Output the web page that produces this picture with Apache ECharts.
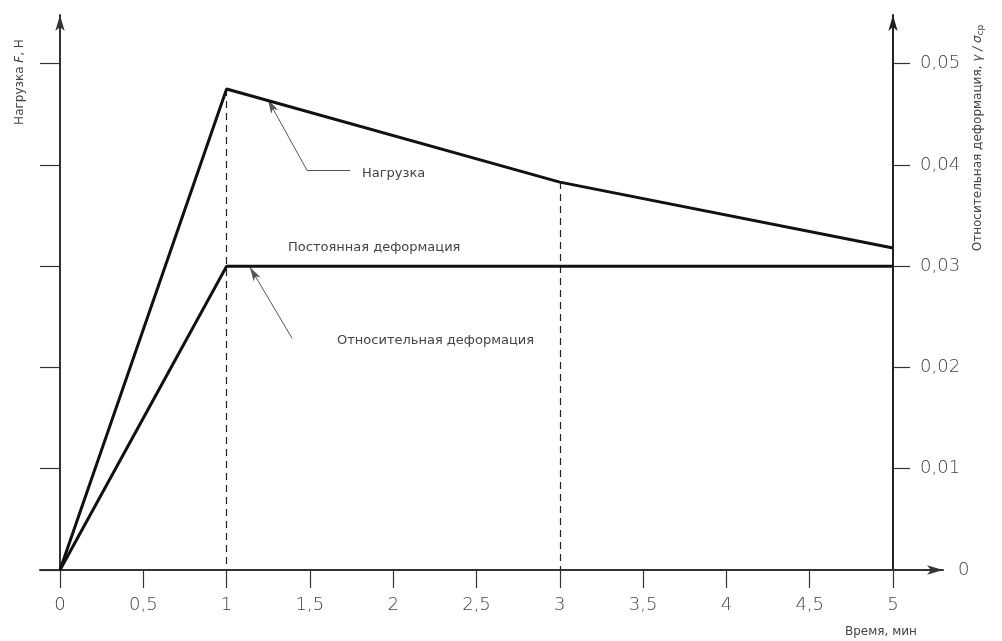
<!DOCTYPE html>
<html>
<head>
<meta charset="utf-8">
<script src="https://cdn.jsdelivr.net/npm/echarts@6.0.0/dist/echarts.min.js"></script>
<style>
  html, body { margin: 0; padding: 0; background: #fff; }
  #main { width: 1002px; height: 641px; }
</style>
</head>
<body>
<div id="main"></div>
<script>
  // данные
  var timeLoad = [0, 1, 3, 5];
  var loadValues = [0, 0.0475, 0.0383, 0.0318];
  var timeDeform = [0, 1, 5];
  var deformValues = [0, 0.03, 0.03];
  var xTicks = [0, 0.5, 1, 1.5, 2, 2.5, 3, 3.5, 4, 4.5, 5];
  var yTicks = [0, 0.01, 0.02, 0.03, 0.04, 0.05];
  var dashedAt = [1, 3];

  var font = "'DejaVu Sans', sans-serif";
  var textColor = '#444';

  function pairs(xs, ys) {
    return xs.map(function (x, i) { return [x, ys[i]]; });
  }
  function comma(v) {
    return String(v).replace('.', ',');
  }

  // пунктирные вертикали от кривой нагрузки до оси времени
  var dashLines = dashedAt.map(function (t) {
    var v = loadValues[timeLoad.indexOf(t)];
    return [
      { coord: [t, v], symbol: 'none', lineStyle: { type: [7, 5], width: 1.2, color: '#222' } },
      { coord: [t, 0], symbol: 'none' }
    ];
  });

  var leaderStyle = { type: 'solid', width: 1, color: '#555' };

  var myChart = echarts.init(document.getElementById('main'));
  myChart.setOption({
    animation: false,
    backgroundColor: '#fff',
    grid: {
      left: 40, right: 59, top: 15, bottom: 71,
      outerBoundsMode: 'none'
    },
    xAxis: {
      type: 'value',
      min: -0.12, max: 5.3,
      splitLine: { show: false },
      axisLine: {
        onZero: false,
        symbol: ['none', 'arrow'], symbolSize: [7, 16], symbolOffset: [0, 0],
        lineStyle: { color: '#333', width: 2 }
      },
      axisTick: {
        show: true, inside: false, length: 18, customValues: xTicks,
        lineStyle: { color: '#333', width: 1.2 }
      },
      axisLabel: {
        customValues: xTicks, margin: 26,
        color: textColor, fontSize: 18, fontFamily: font, fontWeight: 300,
        formatter: comma
      }
    },
    yAxis: [
      {
        type: 'value',
        min: 0, max: 0.0548,
        splitLine: { show: false },
        axisLine: {
          onZero: true,
          symbol: ['none', 'arrow'], symbolSize: [7, 16],
          lineStyle: { color: '#333', width: 2 }
        },
        axisTick: {
          show: true, length: 20, customValues: yTicks,
          lineStyle: { color: '#333', width: 1.2 }
        },
        axisLabel: { show: false }
      },
      {
        type: 'value',
        position: 'right',
        offset: -50,
        min: 0, max: 0.0548,
        splitLine: { show: false },
        axisLine: {
          show: true, onZero: false,
          symbol: ['none', 'arrow'], symbolSize: [7, 16],
          lineStyle: { color: '#222', width: 2 }
        },
        axisTick: {
          show: true, length: 17, customValues: yTicks.slice(1),
          lineStyle: { color: '#333', width: 1.2 }
        },
        axisLabel: {
          customValues: yTicks, margin: 27,
          color: textColor, fontSize: 18, fontFamily: font, fontWeight: 300,
          formatter: function (v) {
            return v === 0 ? '{z|0}' : comma(v);
          },
          rich: {
            z: { padding: [0, 0, 0, 38], color: textColor, fontSize: 18, fontFamily: font, fontWeight: 300 }
          }
        }
      }
    ],
    series: [
      {
        name: 'Нагрузка',
        type: 'line',
        yAxisIndex: 0,
        data: pairs(timeLoad, loadValues),
        showSymbol: false,
        lineStyle: { color: '#111', width: 3 },
        z: 5,
        markLine: {
          silent: true,
          animation: false,
          label: { show: false },
          symbol: ['arrow', 'none'],
          symbolSize: [6, 14],
          lineStyle: leaderStyle,
          data: dashLines.concat([
            [{ coord: [1.248, 0.04645] }, { coord: [1.483, 0.03945] }],
            [{ coord: [1.483, 0.03945], symbol: 'none' }, { coord: [1.741, 0.03945], symbol: 'none' }]
          ])
        },
        markPoint: {
          silent: true,
          symbol: 'circle', symbolSize: 0,
          label: {
            show: true, position: 'right', distance: 0,
            color: textColor, fontSize: 13, fontFamily: font,
            formatter: '{b}'
          },
          data: [
            { name: 'Нагрузка', coord: [1.813, 0.03915] }
          ]
        }
      },
      {
        name: 'Относительная деформация',
        type: 'line',
        yAxisIndex: 1,
        data: pairs(timeDeform, deformValues),
        showSymbol: false,
        lineStyle: { color: '#111', width: 3 },
        z: 5,
        markLine: {
          silent: true,
          animation: false,
          label: { show: false },
          symbol: ['arrow', 'none'],
          symbolSize: [6, 14],
          lineStyle: leaderStyle,
          data: [
            [{ coord: [1.14, 0.0299] }, { coord: [1.393, 0.02288] }]
          ]
        },
        markPoint: {
          silent: true,
          symbol: 'circle', symbolSize: 0,
          label: {
            show: true, position: 'right', distance: 0,
            color: textColor, fontSize: 13, fontFamily: font,
            formatter: '{b}'
          },
          data: [
            { name: 'Постоянная деформация', coord: [1.369, 0.03185] },
            { name: 'Относительная деформация', coord: [1.663, 0.02268] }
          ]
        }
      }
    ],
    graphic: [
      {
        type: 'text', x: 20, y: 82, rotation: Math.PI / 2,
        style: {
          text: '{n|Нагрузка }{i|F}{n|, Н}',
          align: 'center', verticalAlign: 'middle',
          rich: {
            n: { fontSize: 12, fontFamily: font, fill: textColor },
            i: { fontSize: 12, fontFamily: font, fontStyle: 'italic', fill: textColor }
          }
        }
      },
      {
        type: 'text', x: 978, y: 138, rotation: Math.PI / 2,
        style: {
          text: '{n|Относительная деформация, }{i|γ / σ}{s|ср}',
          align: 'center', verticalAlign: 'middle',
          rich: {
            n: { fontSize: 12, fontFamily: font, fill: textColor },
            i: { fontSize: 12, fontFamily: font, fontStyle: 'italic', fill: textColor },
            s: { fontSize: 9, fontFamily: font, fill: textColor, padding: [6, 0, 0, 0] }
          }
        }
      },
      {
        type: 'text', x: 845, y: 632,
        style: {
          text: 'Время, мин',
          fontSize: 12, fontFamily: font, fill: textColor,
          align: 'left', verticalAlign: 'middle'
        }
      }
    ]
  });
</script>
</body>
</html>
